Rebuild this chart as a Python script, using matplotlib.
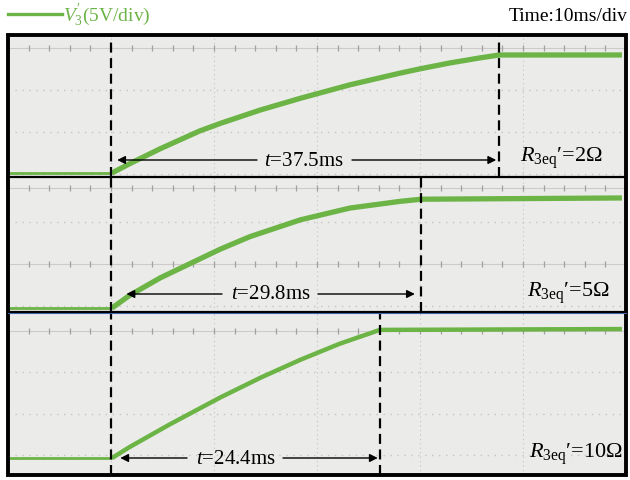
import numpy as np
import matplotlib.pyplot as plt
from matplotlib.patches import Rectangle
from matplotlib.lines import Line2D

plt.rcParams["font.family"] = ["Liberation Serif", "DejaVu Serif"]
plt.rcParams["mathtext.fontset"] = "custom"
plt.rcParams["mathtext.rm"] = "Liberation Serif"
plt.rcParams["mathtext.it"] = "Liberation Serif:italic"

GREEN = "#6cb446"
BG = "#ebebe9"

# traces: time (ms), voltage (V)
t1 = [0, 10.1, 11.8, 14.8, 18.6, 20.6, 24.5, 28.4, 33.2, 38.1, 40.0, 42.9, 45.8, 47.7, 59.6]
v1 = [0, 0, 1.1, 2.9, 5.0, 5.9, 7.5, 8.9, 10.5, 11.9, 12.4, 13.1, 13.7, 14.05, 14.05]
t2 = [0, 10.1, 11.8, 14.8, 20.6, 23.5, 28.4, 33.2, 38.1, 40.1, 59.6]
v2 = [0, 0, 1.5, 3.6, 7.0, 8.5, 10.5, 11.9, 12.7, 12.95, 13.1]
t3 = [0, 10.1, 11.8, 15.7, 20.6, 24.5, 28.4, 32.2, 36.1, 59.6]
v3 = [0, 0, 1.3, 4.0, 7.2, 9.55, 11.7, 13.6, 15.25, 15.35]

times = [t1, t2, t3]
volts = [v1, v2, v3]
t_start = 10.0
t_end = [47.7, 40.1, 36.1]
durations = ["37.5", "29.8", "24.4"]
resist = ["2", "5", "10"]

# layout in pixels of the 630x481 picture
W, H = 630, 481
X0, X1 = 8, 626
PX_PER_V = 8.4
panels = [
    dict(top=36, bot=178, zero=174, rows=[49, 91, 133, 175], tick_rows=[49],
         arrow_y=161, tails=(257, 352), text_x=304, gaps=(0.6, 0.3), r_x=603, r_y=162),
    dict(top=178, bot=313, zero=309, rows=[189, 223, 265, 307], tick_rows=[189, 265],
         arrow_y=295, tails=(222, 318), text_x=271, gaps=(1.5, 0.6), r_x=610, r_y=297),
    dict(top=313, bot=476, zero=459, rows=[332, 373, 415, 456], tick_rows=[332],
         arrow_y=459, tails=(187, 283), text_x=236, gaps=(0.9, 0.2), r_x=623, r_y=458),
]


def px2ms(px):
    return (px - X0) * 60.0 / (X1 - X0)


fig = plt.figure(figsize=(6.3, 4.81), dpi=100)

for i, p in enumerate(panels):
    ax = fig.add_axes([X0 / W, 1 - p["bot"] / H, (X1 - X0) / W, (p["bot"] - p["top"]) / H])
    ax.set_facecolor(BG)
    ax.set_xlim(0, 60)
    py2v = lambda y, z=p["zero"]: (z - y) / PX_PER_V
    ax.set_ylim(py2v(p["bot"]), py2v(p["top"]))
    ax.set_xticks([])
    ax.set_yticks([])
    for s in ax.spines.values():
        s.set_visible(False)

    # scope graticule
    for gx in range(10, 60, 10):
        ax.axvline(gx, color="#c4c4c4", lw=0.8, ls=(0, (1, 3)), zorder=1)
    for r in p["rows"]:
        if r in p["tick_rows"]:
            ax.axhline(py2v(r), color="#cfcaca", lw=0.8, zorder=1)
            mx = np.arange(2, 60, 2)
            ax.plot(mx, [py2v(r)] * len(mx), ls="none", marker="|", ms=4,
                    mew=0.9, color="#a0a0a0", zorder=1)
        else:
            ax.axhline(py2v(r), color="#cbc3c3", lw=1.0, ls=(0, (1, 4)), zorder=1)

    # trace: thin flat part before the step, thick rising part after it
    t = np.array(times[i])
    v = np.array(volts[i])
    pre = t <= t_start + 0.2
    ax.plot(t[pre], v[pre], color=GREEN, lw=2.0, solid_capstyle="butt", zorder=3)
    ax.plot([t_start + 0.1] + t[~pre].tolist(), [0] + v[~pre].tolist(), color=GREEN,
            lw=3.8 if i < 2 else 3.2, solid_capstyle="butt", solid_joinstyle="round", zorder=3)

    # markers
    ax.axvline(t_start, color="k", lw=1.6, ls=(0, (4.5, 2.5)), zorder=4)
    ax.axvline(t_end[i], color="k", lw=1.6, ls=(0, (4.5, 2.5)), zorder=4)

    ay = py2v(p["arrow_y"])
    arr = dict(arrowstyle="-|>", color="k", lw=1.0, mutation_scale=12, shrinkA=0, shrinkB=0)
    ax.annotate("", xy=(t_start + p["gaps"][0], ay), xytext=(px2ms(p["tails"][0]), ay),
                arrowprops=arr, zorder=5)
    ax.annotate("", xy=(t_end[i] - p["gaps"][1], ay), xytext=(px2ms(p["tails"][1]), ay),
                arrowprops=arr, zorder=5)
    ax.text(px2ms(p["text_x"]), ay, r"$t$=" + durations[i] + "ms", ha="center",
            va="center", fontsize=15, zorder=5)
    ax.text(px2ms(p["r_x"]), py2v(p["r_y"]), r"$R_{\mathrm{3eq}}$′=" + resist[i] + "Ω",
            ha="right", va="baseline", fontsize=16, zorder=5)

# dividers and outer frame
fig.add_artist(Line2D([X0 / W, X1 / W], [1 - 313.5 / H] * 2, color="#4a6fc0", lw=0.8))
for yd in [178, 312.5]:
    fig.add_artist(Line2D([X0 / W, X1 / W], [1 - yd / H] * 2, color="k", lw=1.6))
fig.add_artist(Rectangle((X0 / W, 1 - 476 / H), (X1 - X0) / W, (476 - 36) / H,
                         transform=fig.transFigure, fill=False, ec="k", lw=2.8))

# header
fig.add_artist(Line2D([8 / W, 62 / W], [1 - 15 / H] * 2, color=GREEN, lw=2.4))
fig.text(63 / W, 1 - 21 / H, r"$V_3^{\prime}$(5V/div)", color=GREEN, fontsize=14,
         ha="left", va="baseline")
fig.text(628 / W, 1 - 21 / H, "Time:10ms/div", color="k", fontsize=14,
         ha="right", va="baseline")

fig.savefig("out.png", dpi=100, facecolor="white")
